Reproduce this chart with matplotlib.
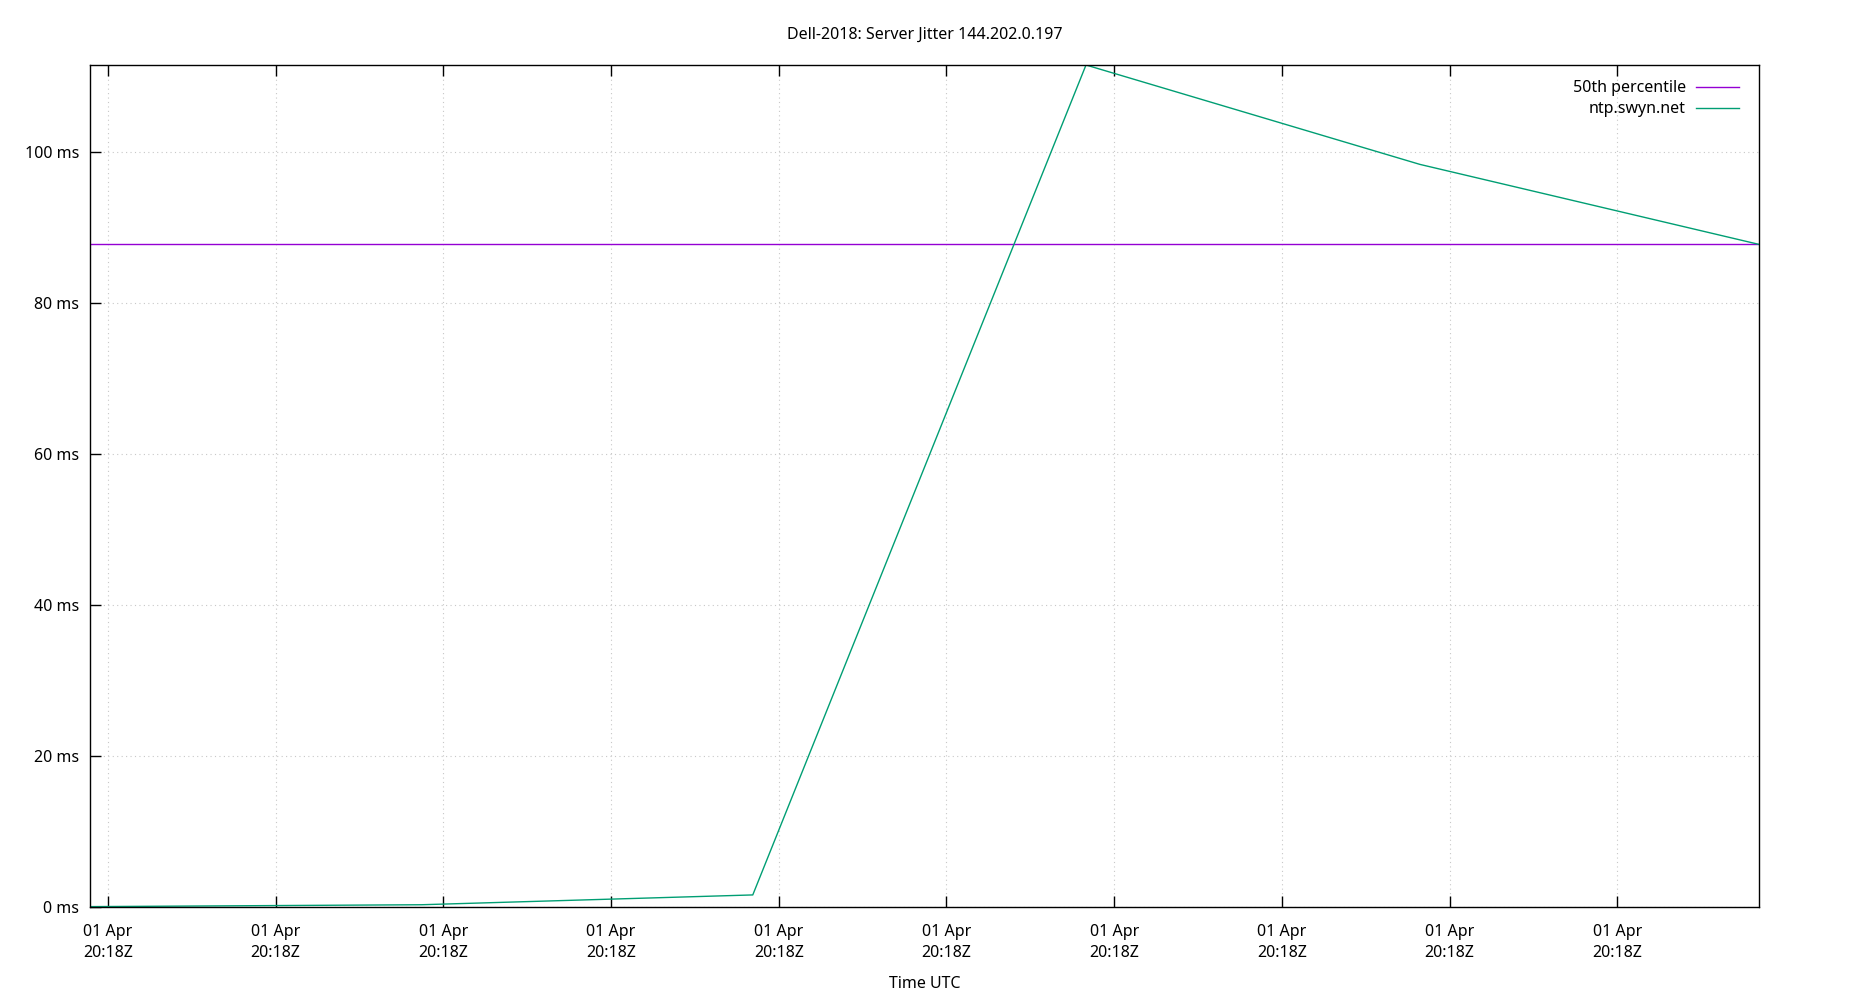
# server jitter chart, gnuplot-like look
import matplotlib
matplotlib.use("Agg")
import matplotlib.pyplot as plt
import matplotlib.dates as mdates
import pandas as pd

plt.rcParams['font.family'] = ['Noto Sans', 'DejaVu Sans']
plt.rcParams['font.size'] = 11.5

# data
times = pd.to_datetime([
    "2021-04-01 20:18:19.893",
    "2021-04-01 20:18:21.870",
    "2021-04-01 20:18:23.845",
    "2021-04-01 20:18:25.832",
    "2021-04-01 20:18:27.823",
    "2021-04-01 20:18:29.845",
])
jitter_ms = [0.05, 0.3, 1.6, 111.57, 98.4, 87.8]
p50_ms = 87.8
y_ticks = [0, 20, 40, 60, 80, 100]

fig = plt.figure(figsize=(18.5, 10), dpi=100)
ax = fig.add_axes([90 / 1850, 1 - 907 / 1000, (1759 - 90) / 1850, (907 - 65) / 1000])

ax.axhline(p50_ms, color='#9400D3', lw=1.0, label='50th percentile')
ax.plot(times, jitter_ms, color='#009E73', lw=1.0, label='ntp.swyn.net')

ax.set_xlim(times[0], times[-1])
ax.set_ylim(0, max(jitter_ms))

ax.xaxis.set_major_locator(mdates.SecondLocator(interval=1))
ax.xaxis.set_major_formatter(mdates.DateFormatter('%d %b\n%H:%MZ'))
ax.set_yticks(y_ticks)
ax.yaxis.set_major_formatter(plt.FuncFormatter(lambda v, p: f'{v:.0f} ms'))

ax.tick_params(axis='x', direction='in', length=8, width=1, top=True, pad=12)
ax.tick_params(axis='y', direction='in', length=8, width=1, right=False, pad=8)
for s in ax.spines.values():
    s.set_linewidth(1.0)

ax.grid(True, color='#c8c8c8', linestyle=(0, (1, 3)), lw=0.8)
ax.set_axisbelow(True)

ax.set_title('Dell-2018: Server Jitter 144.202.0.197', fontsize=11.5, pad=19)
ax.set_xlabel('Time UTC', labelpad=11)

ax.legend(loc='upper right', frameon=False, markerfirst=False, handlelength=2.7,
          handletextpad=0.6, labelspacing=0.3, borderaxespad=0.3,
          bbox_to_anchor=(0.9945, 0.995))

fig.canvas.draw()
plt.setp(ax.get_xticklabels(), linespacing=1.45)

fig.savefig('out.png', dpi=100)
